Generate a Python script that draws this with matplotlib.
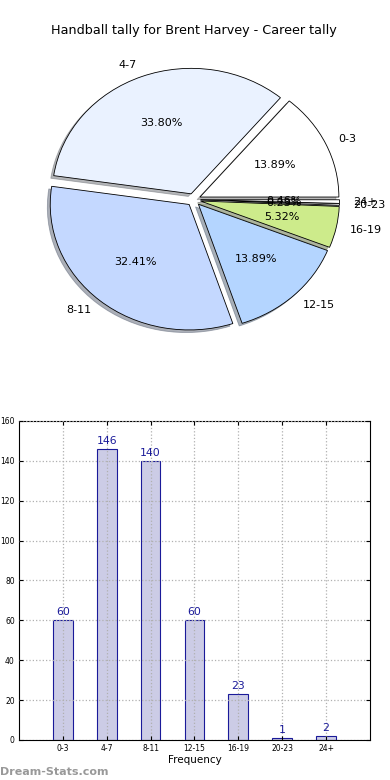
import matplotlib
matplotlib.use('Agg')
from matplotlib import pyplot as plt
import numpy as np

matplotlib.rcParams['font.family'] = 'DejaVu Sans'

# data
categories = ['0-3', '4-7', '8-11', '12-15', '16-19', '20-23', '24+']
counts = [60, 146, 140, 60, 23, 1, 2]

pie_colors = ['#ffffff', '#eaf2ff', '#c4d8ff', '#b4d5ff', '#cdeb8b', '#e0e0e0', '#ffffff']
bar_face = '#ccccE6'
bar_edge = '#1a1a99'
label_blue = '#1a1a99'

fig = plt.figure(figsize=(3.9, 7.8), dpi=100)

# pie chart (not forced to equal aspect, like old matplotlib)
ax1 = fig.add_axes([0.069, 0.551, 0.855, 0.386])
ax1.pie(counts, labels=categories, colors=pie_colors, explode=[0.05] * len(counts),
        autopct='%1.2f%%', shadow={'ox': -0.015, 'oy': -0.015, 'shade': 0.55},
        startangle=0,
        wedgeprops=dict(edgecolor='black', linewidth=0.6),
        textprops=dict(fontsize=8))
ax1.set_xlim(-1.2, 1.2)
ax1.set_ylim(-1.2, 1.2)
ax1.set_aspect('auto')
ax1.set_title('Handball tally for Brent Harvey - Career tally', fontsize=9.2, pad=11)

# bar chart
ax2 = fig.add_axes([0.0487, 0.0513, 0.9, 0.409])
x = np.arange(len(counts))
bars = ax2.bar(x, counts, width=0.45, color=bar_face, edgecolor=bar_edge, linewidth=0.8)
for xi, c in zip(x, counts):
    ax2.text(xi, c + 1.5, str(c), ha='center', va='bottom', fontsize=7.8, color=label_blue)

ax2.set_xlim(-1, 7)
ax2.set_ylim(0, 160)
ax2.set_yticks(np.arange(0, 161, 20))
ax2.set_xticks(x)
ax2.set_xticklabels(categories)
ax2.tick_params(axis='both', direction='in', labelsize=5.5, length=3,
                top=True, right=True, pad=3)
ax2.set_axisbelow(False)
ax2.grid(True, linestyle=':', color='#b0b0b0', linewidth=0.9)
ax2.set_xlabel('Frequency', fontsize=7.5, labelpad=1)

fig.text(0.0, 0.004, 'Dream-Stats.com', fontsize=8, color='#999999',
         fontweight='bold', ha='left', va='bottom')

plt.savefig('out.png', dpi=100)
